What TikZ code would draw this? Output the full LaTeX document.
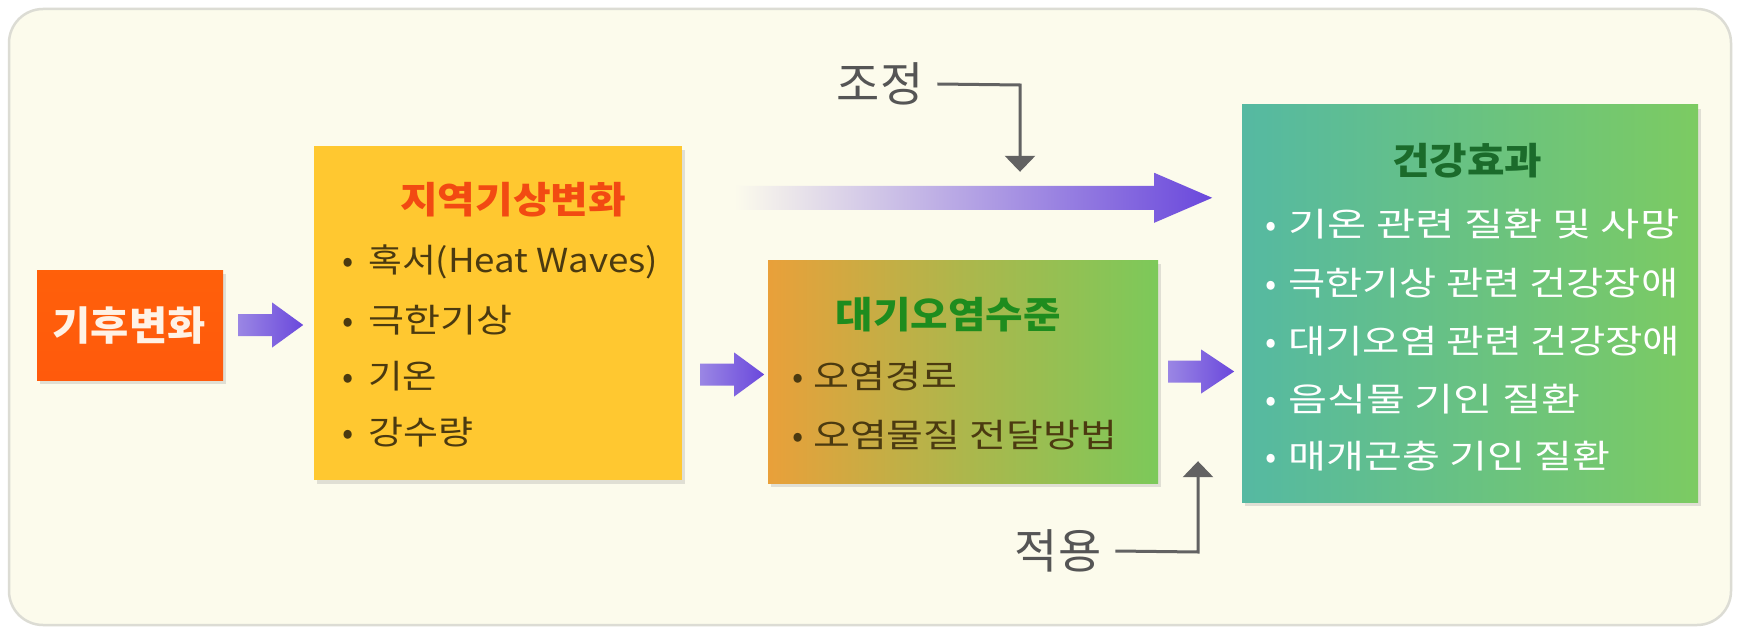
\documentclass[tikz,border=0pt]{standalone}
\usepackage{graphicx}
\usepackage{fontspec}
\newfontfamily\kr{Noto Sans CJK KR}
\usetikzlibrary{calc,shadows,arrows.meta}
\definecolor{bgcream}{HTML}{FCFBEC}
\definecolor{frame}{HTML}{DCDCD4}
\definecolor{climateC}{HTML}{FF5A0C}
\definecolor{weatherC}{HTML}{FFC830}
\definecolor{airL}{HTML}{E9A03A}
\definecolor{airR}{HTML}{7CC95A}
\definecolor{healthL}{HTML}{55B9A2}
\definecolor{healthR}{HTML}{7CCB62}
\definecolor{redT}{HTML}{F24A12}
\definecolor{greenT}{HTML}{1E8C1E}
\definecolor{dgreenT}{HTML}{1B6B2B}
\definecolor{itemT}{HTML}{4B3A10}
\definecolor{sidegray}{HTML}{555555}
\definecolor{linegray}{HTML}{626262}
\definecolor{arrL}{HTML}{9A86E4}
\definecolor{arrR}{HTML}{6A48DC}
\tikzset{
  box/.style={draw=none, inner sep=0pt, drop shadow={opacity=0.22, shadow xshift=3pt, shadow yshift=-4pt}},
  title/.style={font=\kr\bfseries\fontsize{37}{40}\selectfont, inner sep=0pt},
  item/.style={font=\kr\fontsize{33}{36}\selectfont, inner sep=0pt, anchor=west},
  side/.style={font=\kr\fontsize{47}{50}\selectfont, text=sidegray, inner sep=0pt},
  guide/.style={draw=linegray, line width=3pt, -{Triangle[length=16pt,width=30pt]}},
}
% bullet gap, text width, text
\newcommand\itm[3]{\makebox[#1][l]{•}\resizebox{#2}{\height}{#3}}
\newcommand\fitw[2]{\resizebox{#1}{\height}{#2}}
\newcommand\blockarr[6]{% start, total length, head length, shaft half, head half, colors
  \shade[#6] ($(#1)+(0,-#4)$) -- ($(#1)+({#2-#3},-#4)$) -- ($(#1)+({#2-#3},-#5)$)
    -- ($(#1)+(#2,0)$) -- ($(#1)+({#2-#3},#5)$) -- ($(#1)+({#2-#3},#4)$)
    -- ($(#1)+(0,#4)$) -- cycle;}
\begin{document}
\begin{tikzpicture}[x=1pt,y=-1pt]
\useasboundingbox (0,0) rectangle (1740,631);
\fill[white] (0,0) rectangle (1740,631);
\draw[line width=2.5pt, draw=frame, fill=bgcream, rounded corners=34pt] (9,9) rectangle (1731,625);

% boxes
\node[box, top color=climateC!85!orange, bottom color=climateC, minimum width=186pt, minimum height=110pt] (climate) at (130,325) {};
\node[box, fill=weatherC, minimum width=368pt, minimum height=334pt] (weather) at (498,313) {};
\node[box, left color=airL, right color=airR, middle color=airL!45!airR, minimum width=390pt, minimum height=223pt] (air) at (963,371.5) {};
\node[box, left color=healthL, right color=healthR, minimum width=456pt, minimum height=397pt] (health) at (1470,303.5) {};

% texts
\node[title, text=white!90!orange, font=\kr\bfseries\fontsize{40}{44}\selectfont] (tclimate) at (129,326) {\fitw{153pt}{기후변화}};
\node[title, text=redT] (tweather) at (513,200) {\fitw{226pt}{지역기상변화}};
\node[item, text=itemT] (w1) at (342,262) {\itm{26pt}{290pt}{혹서(Heat Waves)}};
\node[item, text=itemT] (w2) at (342,320) {\itm{26pt}{144pt}{극한기상}};
\node[item, text=itemT] (w3) at (342,376) {\itm{26pt}{69pt}{기온}};
\node[item, text=itemT] (w4) at (342,432) {\itm{26pt}{105pt}{강수량}};

\node[title, text=greenT] (tair) at (948,315) {\fitw{225pt}{대기오염수준}};
\node[item, text=itemT] (a1) at (792,376) {\itm{21pt}{144pt}{오염경로}};
\node[item, text=itemT] (a2) at (792,435) {\itm{21pt}{304pt}{오염물질 전달방법}};

\node[title, text=dgreenT] (thealth) at (1467,161) {\fitw{150pt}{건강효과}};
\node[item, text=white] (h1) at (1265,224) {\itm{23pt}{391pt}{기온 관련 질환 및 사망}};
\node[item, text=white] (h2) at (1265,283) {\itm{23pt}{390pt}{극한기상 관련 건강장애}};
\node[item, text=white] (h3) at (1265,341) {\itm{23pt}{392pt}{대기오염 관련 건강장애}};
\node[item, text=white] (h4) at (1265,399) {\itm{23pt}{292pt}{음식물 기인 질환}};
\node[item, text=white] (h5) at (1265,456) {\itm{23pt}{322pt}{매개곤충 기인 질환}};

% block arrows
\coordinate (s1) at ($(climate.east)+(15,0)$);
\blockarr{s1}{65}{31}{11}{22.5}{left color=arrL, right color=arrR}
\coordinate (s2) at ($(weather.east |- air.center)+(18,3)$);
\blockarr{s2}{64}{30}{11}{22}{left color=arrL, right color=arrR}
\coordinate (s3) at ($(air.east)+(10,0)$);
\blockarr{s3}{66}{33}{11}{22}{left color=arrL, right color=arrR}
\coordinate (s4) at ($(weather.north east)+(52,52)$);
\blockarr{s4}{478}{58}{12}{25}{left color=bgcream, middle color=arrL!80, right color=arrR}

% side labels
\node[side] (adjust) at (880,84) {조정};
\node[side] (apply) at (1058,551) {적용};
\coordinate (adjC) at (1020,85);
\draw[guide] (adjust.east) ++(14,0) -- (adjC) -- ($(adjC |- s4)+(0,-26)$);
\coordinate (appC) at (1198,552);
\draw[guide] (apply.east) ++(14,0) -- (appC) -- ($(appC |- air.south)+(0,-22)$);
\end{tikzpicture}
\end{document}
